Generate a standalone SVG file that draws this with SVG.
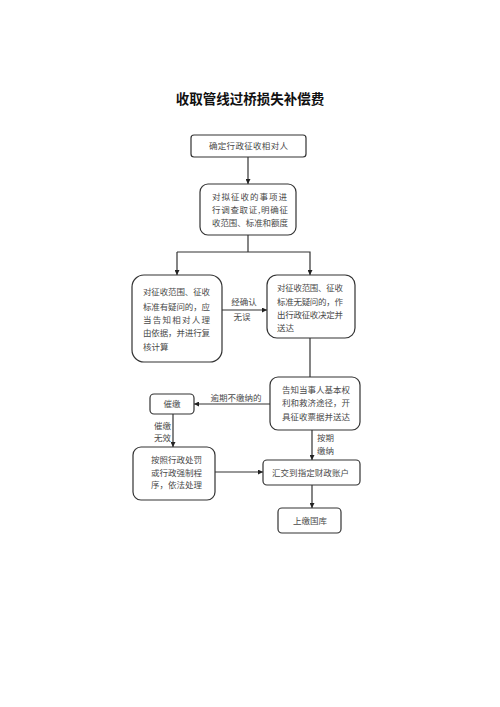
<svg xmlns="http://www.w3.org/2000/svg" width="500" height="707" viewBox="0 0 500 707">
<defs>
<marker id="arr" viewBox="0 0 10 10" refX="10" refY="5" markerWidth="5" markerHeight="5" orient="auto" markerUnits="userSpaceOnUse">
<path d="M0,0 L10,5 L0,10 z" fill="#222"/>
</marker>
</defs>
<style>
.box{fill:#fff;stroke:#333;stroke-width:1.2}
.t{font-family:"Noto Sans CJK SC","Liberation Sans",sans-serif;font-size:8.5px;fill:#4a4a4a}
.c{text-anchor:middle}
.ln{fill:none;stroke:#333;stroke-width:1.2}
.title{font-family:"Noto Sans CJK SC","Liberation Sans",sans-serif;font-size:13.5px;font-weight:bold;fill:#111;text-anchor:middle}
</style>
<rect width="500" height="707" fill="#fff"/>
<text class="title" x="250" y="103.5">收取管线过桥损失补偿费</text>
<g id="connectors">
<line class="ln" x1="248" y1="157" x2="248" y2="184" marker-end="url(#arr)"/>
<polyline class="ln" points="248,235 248,252"/>
<polyline class="ln" points="177,252 310,252 310,275" marker-end="url(#arr)"/>
<line class="ln" x1="177" y1="252" x2="177" y2="275" marker-end="url(#arr)"/>
<line class="ln" x1="222" y1="310" x2="267" y2="310" marker-end="url(#arr)"/>
<text class="t c" x="244" y="305">经确认</text>
<text class="t c" x="242" y="320">无误</text>
<line class="ln" x1="310" y1="338" x2="310" y2="377"/>
<line class="ln" x1="270" y1="404" x2="194" y2="404" marker-end="url(#arr)"/>
<text class="t c" x="236" y="401">逾期不缴纳的</text>
<line class="ln" x1="173" y1="414" x2="173" y2="447" marker-end="url(#arr)"/>
<text class="t" x="154" y="429">催缴</text>
<text class="t" x="154" y="441">无效</text>
<line class="ln" x1="215" y1="472" x2="263" y2="472" marker-end="url(#arr)"/>
<line class="ln" x1="312" y1="430" x2="312" y2="460" marker-end="url(#arr)"/>
<text class="t" x="317" y="441">按期</text>
<text class="t" x="317" y="454">缴纳</text>
<line class="ln" x1="312" y1="485" x2="312" y2="508" marker-end="url(#arr)"/>
</g>
<g id="n1">
<rect class="box" x="191" y="135" width="115" height="22" rx="3"/>
<text class="t" x="209" y="149" textLength="79" lengthAdjust="spacing">确定行政征收相对人</text>
</g>
<g id="n2">
<rect class="box" x="200" y="184" width="96" height="51" rx="8"/>
<text class="t" x="212" y="200" textLength="75" lengthAdjust="spacing">对拟征收的事项进</text>
<text class="t" x="212" y="213" textLength="76" lengthAdjust="spacing">行调查取证,明确征</text>
<text class="t" x="212" y="226" textLength="76" lengthAdjust="spacing">收范围、标准和额度</text>
</g>
<g id="n3">
<rect class="box" x="132" y="275" width="90" height="87" rx="12"/>
<text class="t" x="143" y="295" textLength="67" lengthAdjust="spacing">对征收范围、征收</text>
<text class="t" x="143" y="310" textLength="67" lengthAdjust="spacing">标准有疑问的，应</text>
<text class="t" x="143" y="323" textLength="67" lengthAdjust="spacing">当告知相对人理</text>
<text class="t" x="143" y="336" textLength="67" lengthAdjust="spacing">由依据，并进行复</text>
<text class="t" x="143" y="350">核计算</text>
</g>
<g id="n4">
<rect class="box" x="267" y="275" width="88" height="63" rx="10"/>
<text class="t" x="277" y="291" textLength="66" lengthAdjust="spacing">对征收范围、征收</text>
<text class="t" x="277" y="305" textLength="66" lengthAdjust="spacing">标准无疑问的，作</text>
<text class="t" x="277" y="318" textLength="66" lengthAdjust="spacing">出行政征收决定并</text>
<text class="t" x="277" y="331">送达</text>
</g>
<g id="n5">
<rect class="box" x="270" y="377" width="90" height="53" rx="8"/>
<text class="t" x="282" y="393" textLength="68" lengthAdjust="spacing">告知当事人基本权</text>
<text class="t" x="282" y="406" textLength="68" lengthAdjust="spacing">利和救济途径，开</text>
<text class="t" x="282" y="420" textLength="68" lengthAdjust="spacing">具征收票据并送达</text>
</g>
<g id="n6">
<rect class="box" x="150" y="394" width="44" height="20" rx="4"/>
<text class="t c" x="172" y="407">催缴</text>
</g>
<g id="n7">
<rect class="box" x="133" y="447" width="82" height="53" rx="8"/>
<text class="t" x="151" y="463" textLength="51" lengthAdjust="spacing">按照行政处罚</text>
<text class="t" x="151" y="476" textLength="51" lengthAdjust="spacing">或行政强制程</text>
<text class="t" x="151" y="488" textLength="51" lengthAdjust="spacing">序，依法处理</text>
</g>
<g id="n8">
<rect class="box" x="263" y="460" width="97" height="25" rx="4"/>
<text class="t" x="272" y="476" textLength="77" lengthAdjust="spacing">汇交到指定财政账户</text>
</g>
<g id="n9">
<rect class="box" x="278" y="508" width="63" height="25" rx="4"/>
<text class="t c" x="310" y="524">上缴国库</text>
</g>
</svg>
